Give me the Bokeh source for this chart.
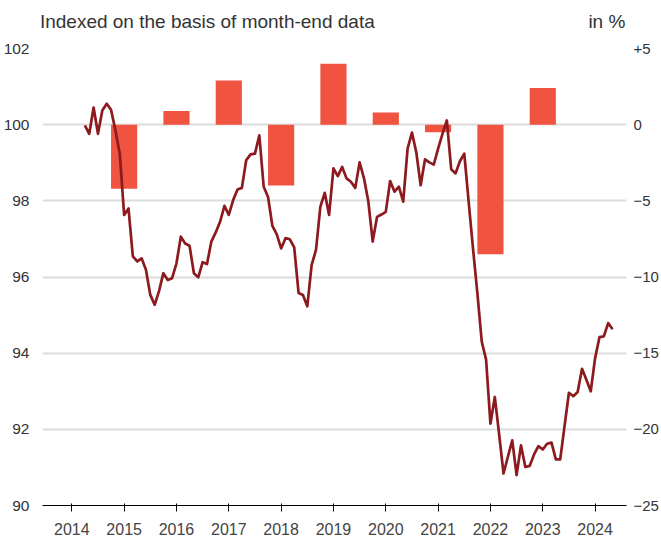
import pandas as pd
from bokeh.plotting import figure
from bokeh.models import Range1d, FixedTicker, ColumnDataSource, LinearAxis
from bokeh.embed import file_html
from bokeh.resources import INLINE

# Monthly index values (month-end data), March 2014 .. April 2024
index_values = [
    99.98, 99.76, 100.45, 99.76, 100.37, 100.55, 100.39, 99.85, 99.24, 97.63,
    97.80, 96.54, 96.41, 96.49, 96.19, 95.53, 95.27, 95.63, 96.10, 95.92,
    95.97, 96.36, 97.06, 96.88, 96.82, 96.10, 95.99, 96.39, 96.34, 96.93,
    97.17, 97.45, 97.87, 97.63, 98.02, 98.30, 98.34, 99.07, 99.22, 99.24,
    99.72, 98.37, 98.10, 97.34, 97.12, 96.75, 97.02, 96.99, 96.78, 95.58,
    95.53, 95.23, 96.32, 96.71, 97.85, 98.21, 97.63, 98.85, 98.65, 98.89,
    98.59, 98.50, 98.34, 99.01, 98.59, 97.98, 96.93, 97.58, 97.64, 97.71,
    98.52, 98.24, 98.37, 97.98, 99.37, 99.79, 99.27, 98.41, 99.09, 99.01,
    98.95, 99.37, 99.76, 100.11, 98.83, 98.72, 99.04, 99.24, 97.98, 96.75,
    95.58, 94.31, 93.83, 92.15, 92.85, 91.86, 90.84, 91.28, 91.71, 90.80,
    91.58, 91.01, 91.04, 91.34, 91.56, 91.47, 91.62, 91.65, 91.21, 91.21,
    92.09, 92.96, 92.87, 92.98, 93.59, 93.30, 93.00, 93.87, 94.42, 94.44,
    94.79, 94.63,
]

# Annual change in % (right axis)
bar_years = [2015, 2016, 2017, 2018, 2019, 2020, 2021, 2022, 2023]
bar_values = [-4.2, 0.9, 2.9, -4.0, 4.0, 0.8, -0.5, -8.5, 2.4]

x_ticks = [2014, 2015, 2016, 2017, 2018, 2019, 2020, 2021, 2022, 2023, 2024]
x_tick_labels = ["2014", "2015", "2016", "2017", "2018", "2019", "2020",
                 "2021", "2022", "2023", "2024"]
left_ticks = [90, 92, 94, 96, 98, 100, 102]
left_tick_labels = ["90", "92", "94", "96", "98", "100", "102"]
right_ticks = [-25, -20, -15, -10, -5, 0, 5]
right_tick_labels = ["\u221225", "\u221220", "\u221215", "\u221210", "\u22125", "0", "+5"]

title_text = "Indexed on the basis of month-end data"
unit_text = "in %"

months = pd.date_range("2014-03-31", periods=len(index_values), freq="ME")
month_x = [d.year + d.month / 12.0 for d in months]

FONT = "Liberation Sans"
TXT = "#333333"
X0, X1 = 2013.44, 2024.60
# header text anchor positions (text centres, in x data units)
TITLE_POS, UNIT_POS = 2016.59, 2024.225

p = figure(width=661, height=537, output_backend="svg", toolbar_location=None,
           x_range=Range1d(X0, X1), y_range=Range1d(90, 102),
           min_border_left=40, min_border_right=34, min_border_top=48,
           min_border_bottom=30)
p.extra_y_ranges = {"pct": Range1d(-25, 5)}
p.outline_line_color = None
p.background_fill_color = "white"
p.border_fill_color = "white"

# grid
p.xgrid.visible = False
p.ygrid.ticker = FixedTicker(ticks=left_ticks)
p.ygrid.grid_line_color = "#DCDCDC"
p.ygrid.grid_line_width = 2

# bars
bar_src = ColumnDataSource(dict(x=bar_years, top=bar_values))
p.vbar(x="x", top="top", bottom=0, width=0.5, source=bar_src,
       y_range_name="pct", fill_color="#F05340", line_color=None)

# line
line_src = ColumnDataSource(dict(x=month_x, y=index_values))
p.line(x="x", y="y", source=line_src, line_color="#8C1A1E", line_width=2.7,
       line_join="round")

# right axis
raxis = LinearAxis(y_range_name="pct")
p.add_layout(raxis, "right")
raxis.ticker = FixedTicker(ticks=right_ticks)
raxis.major_label_overrides = {t: l for t, l in zip(right_ticks, right_tick_labels)}

# header axis (title and unit)
taxis = LinearAxis()
p.add_layout(taxis, "above")
taxis.ticker = FixedTicker(ticks=[TITLE_POS, UNIT_POS])
taxis.major_label_overrides = {TITLE_POS: title_text, UNIT_POS: unit_text}

# axes style
for ax in (p.xaxis[0], p.yaxis[0], raxis, taxis):
    ax.axis_line_color = None
    ax.major_tick_line_color = None
    ax.minor_tick_line_color = None
    ax.major_label_text_font = FONT
    ax.major_label_text_font_size = "15.5px"
    ax.major_label_text_color = TXT
    ax.major_label_standoff = 7
raxis.major_label_standoff = 1
raxis.major_label_text_font_size = "15px"
taxis.major_label_text_font_size = "19px"
taxis.major_label_standoff = 11

bx = [a for a in p.below if isinstance(a, LinearAxis)][0]
bx.ticker = FixedTicker(ticks=x_ticks)
bx.major_label_overrides = {t: l for t, l in zip(x_ticks, x_tick_labels)}
bx.major_label_standoff = 11
bx.major_label_text_font_size = "16px"
ly = [a for a in p.left if isinstance(a, LinearAxis)][0]
ly.ticker = FixedTicker(ticks=left_ticks)
ly.major_label_overrides = {t: l for t, l in zip(left_ticks, left_tick_labels)}

open("out.html", "w").write(file_html(p, INLINE))
